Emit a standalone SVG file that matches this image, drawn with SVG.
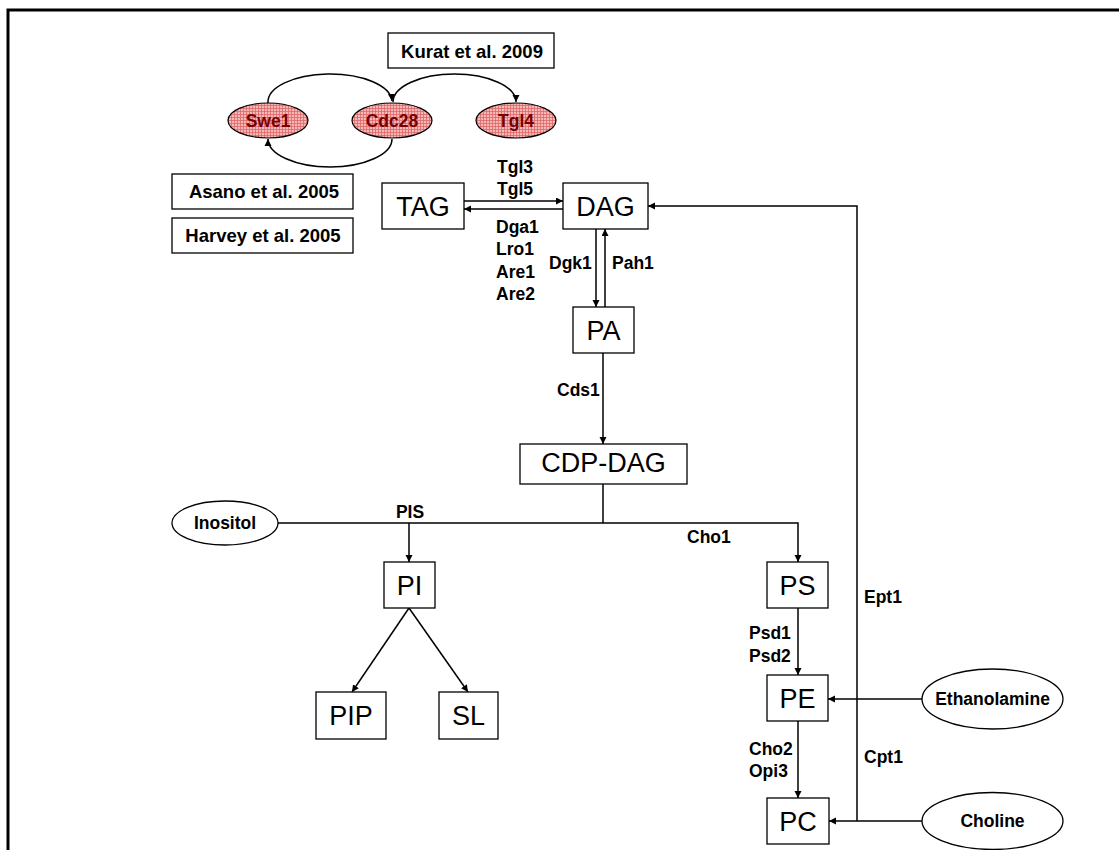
<svg xmlns="http://www.w3.org/2000/svg" width="1119" height="850" viewBox="0 0 1119 850">
<style>
.box{fill:#fff;stroke:#000;stroke-width:1.3}
.ell{fill:#fff;stroke:#000;stroke-width:1.3}
.pink{fill:url(#grid);stroke:#000;stroke-width:1.2}
.big{font-family:"Liberation Sans",Arial,sans-serif;font-size:27px;fill:#000;text-anchor:middle}
.lbl{font-family:"Liberation Sans",Arial,sans-serif;font-size:17.5px;font-weight:bold;fill:#000}
.ref{font-size:18.5px}
.mid{text-anchor:middle}
.red{fill:#7a0000}
.ln{fill:none;stroke:#000;stroke-width:1.5}
</style>
<defs>
<pattern id="grid" width="3" height="3" patternUnits="userSpaceOnUse">
<rect width="3" height="3" fill="#f5b8b8"/>
<path d="M0,0.5 H3 M0.5,0 V3" stroke="#e06666" stroke-width="0.8"/>
</pattern>
<marker id="ah" markerWidth="8" markerHeight="8" refX="7" refY="3.5" orient="auto" markerUnits="userSpaceOnUse">
<path d="M0,0 L7,3.5 L0,7 z" fill="#000"/>
</marker>
</defs>
<rect width="1119" height="850" fill="#fff"/>
<path d="M8,850 V10 H1119" fill="none" stroke="#000" stroke-width="3"/>

<g id="connectors">
<path class="ln" d="M268,103 A62,28 0 0 1 392,101" marker-end="url(#ah)"/>
<path class="ln" d="M393,102 A61.5,28 0 0 1 516,102" marker-end="url(#ah)"/>
<path class="ln" d="M392,139 A62,28 0 0 1 268,139" marker-end="url(#ah)"/>
<line class="ln" x1="464" y1="201" x2="563" y2="201" marker-end="url(#ah)"/>
<line class="ln" x1="563" y1="209" x2="464" y2="209" marker-end="url(#ah)"/>
<line class="ln" x1="596" y1="229" x2="596" y2="307" marker-end="url(#ah)"/>
<line class="ln" x1="605" y1="307" x2="605" y2="229" marker-end="url(#ah)"/>
<line class="ln" x1="603" y1="353" x2="603" y2="444" marker-end="url(#ah)"/>
<path class="ln" d="M603,484 V523"/>
<path class="ln" d="M278,523 H798 V562" marker-end="url(#ah)"/>
<line class="ln" x1="409" y1="523" x2="409" y2="562" marker-end="url(#ah)"/>
<line class="ln" x1="409" y1="608" x2="352" y2="692" marker-end="url(#ah)"/>
<line class="ln" x1="409" y1="608" x2="468" y2="692" marker-end="url(#ah)"/>
<line class="ln" x1="798" y1="608" x2="798" y2="675" marker-end="url(#ah)"/>
<line class="ln" x1="798" y1="721" x2="798" y2="798" marker-end="url(#ah)"/>
<line class="ln" x1="922" y1="699" x2="828" y2="699" marker-end="url(#ah)"/>
<line class="ln" x1="922" y1="821" x2="829" y2="821" marker-end="url(#ah)"/>
<path class="ln" d="M857,821 V206 H648" marker-end="url(#ah)"/>
</g>

<g id="labels">
<text class="lbl" x="497" y="173">Tgl3</text>
<text class="lbl" x="497" y="195">Tgl5</text>
<text class="lbl" x="496" y="233">Dga1</text>
<text class="lbl" x="496" y="255">Lro1</text>
<text class="lbl" x="496" y="278">Are1</text>
<text class="lbl" x="496" y="300">Are2</text>
<text class="lbl" x="549" y="269">Dgk1</text>
<text class="lbl" x="612" y="269">Pah1</text>
<text class="lbl" x="557" y="396">Cds1</text>
<text class="lbl mid" x="410" y="518">PIS</text>
<text class="lbl" x="687" y="543">Cho1</text>
<text class="lbl" x="749" y="639">Psd1</text>
<text class="lbl" x="749" y="662">Psd2</text>
<text class="lbl" x="749" y="755">Cho2</text>
<text class="lbl" x="749" y="777">Opi3</text>
<text class="lbl" x="864" y="603">Ept1</text>
<text class="lbl" x="864" y="763">Cpt1</text>
</g>

<g id="ref-kurat"><rect class="box" x="388" y="33" width="166" height="35"/><text class="lbl ref mid" x="472" y="58">Kurat et al. 2009</text></g>
<g id="ref-asano"><rect class="box" x="172" y="174" width="181" height="35"/><text class="lbl ref mid" x="264" y="198">Asano et al. 2005</text></g>
<g id="ref-harvey"><rect class="box" x="172" y="218" width="181" height="35"/><text class="lbl ref mid" x="263" y="242">Harvey et al. 2005</text></g>

<g id="swe1"><ellipse class="pink" cx="268" cy="120.5" rx="40" ry="17.5"/><text class="lbl mid red" x="268" y="127">Swe1</text></g>
<g id="cdc28"><ellipse class="pink" cx="392" cy="120.5" rx="40" ry="17.5"/><text class="lbl mid red" x="392" y="127">Cdc28</text></g>
<g id="tgl4"><ellipse class="pink" cx="516" cy="120.5" rx="40" ry="17.5"/><text class="lbl mid red" x="516" y="127">Tgl4</text></g>

<g id="tag"><rect class="box" x="382" y="183" width="82" height="46"/><text class="big" x="423" y="216">TAG</text></g>
<g id="dag"><rect class="box" x="563" y="183" width="85" height="46"/><text class="big" x="605.5" y="216">DAG</text></g>
<g id="pa"><rect class="box" x="573" y="307" width="61" height="46"/><text class="big" x="603.5" y="340">PA</text></g>
<g id="cdp-dag"><rect class="box" x="520" y="444" width="167" height="40"/><text class="big" x="603.5" y="472">CDP-DAG</text></g>
<g id="inositol"><ellipse class="ell" cx="225" cy="523" rx="53" ry="22"/><text class="lbl mid" x="225" y="529">Inositol</text></g>
<g id="pi"><rect class="box" x="384" y="562" width="51" height="46"/><text class="big" x="409.5" y="595">PI</text></g>
<g id="pip"><rect class="box" x="316" y="692" width="70" height="47"/><text class="big" x="351" y="725">PIP</text></g>
<g id="sl"><rect class="box" x="439" y="692" width="59" height="47"/><text class="big" x="468.5" y="725">SL</text></g>
<g id="ps"><rect class="box" x="767" y="562" width="61" height="46"/><text class="big" x="797.5" y="595">PS</text></g>
<g id="pe"><rect class="box" x="767" y="675" width="61" height="46"/><text class="big" x="797.5" y="708">PE</text></g>
<g id="pc"><rect class="box" x="767" y="798" width="62" height="46"/><text class="big" x="798" y="831">PC</text></g>
<g id="ethanolamine"><ellipse class="ell" cx="992.5" cy="699" rx="70.5" ry="30"/><text class="lbl mid" x="992.5" y="705">Ethanolamine</text></g>
<g id="choline"><ellipse class="ell" cx="992.5" cy="821" rx="70.5" ry="28.5"/><text class="lbl mid" x="992.5" y="827">Choline</text></g>
</svg>
